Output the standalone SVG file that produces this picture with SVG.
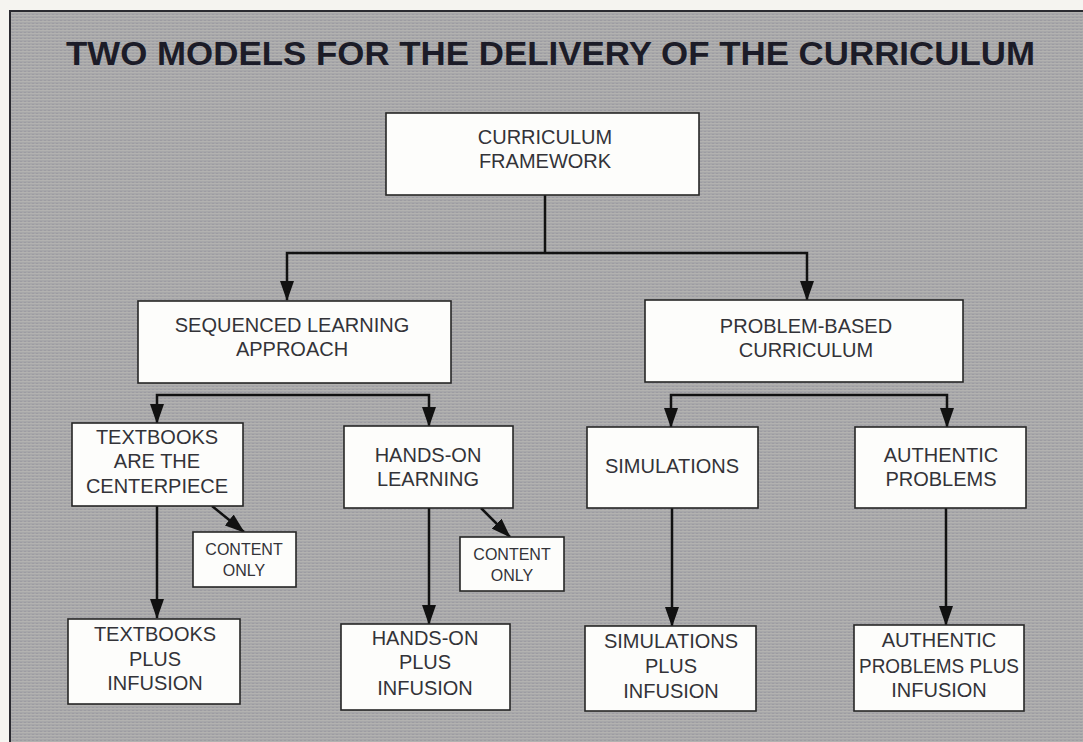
<svg xmlns="http://www.w3.org/2000/svg" width="1083" height="742" viewBox="0 0 1083 742">
<style>
.node rect{fill:#fdfdfb;stroke:#262626;stroke-width:1.6}
.node text{font-family:"Liberation Sans",Arial,sans-serif;font-size:20px;fill:#333338;text-anchor:middle}
.node text.small{font-size:16px}
.conn path{fill:none;stroke:#111;stroke-width:2.5}
.title{font-family:"Liberation Sans",Arial,sans-serif;font-weight:bold;font-size:33px;fill:#1c1c28}
</style>
<defs>
<pattern id="tex" width="4" height="3" patternUnits="userSpaceOnUse">
<rect width="4" height="3" fill="#a7a7a9"/>
<rect y="0" width="4" height="1" fill="#b3b2b0"/>
<rect x="0" y="2" width="2" height="1" fill="#9d9ca2"/>
</pattern>
<marker id="ah" viewBox="0 0 20 14" refX="19" refY="7" markerWidth="20" markerHeight="14" markerUnits="userSpaceOnUse" orient="auto">
<path d="M0,0 L20,7 L0,14 z" fill="#111"/>
</marker>
</defs>
<rect width="1083" height="742" fill="#f5f4f0"/>
<rect x="10" y="11" width="1080" height="740" fill="url(#tex)" stroke="#2a2a30" stroke-width="2"/>
<text class="title" x="66" y="65" textLength="969" lengthAdjust="spacingAndGlyphs">TWO MODELS FOR THE DELIVERY OF THE CURRICULUM</text>

<g class="conn">
<path d="M545,195 V253"/>
<path d="M545,253 H287 V300" marker-end="url(#ah)"/>
<path d="M545,253 H807 V300" marker-end="url(#ah)"/>
<path d="M293,395 H157 V423" marker-end="url(#ah)"/>
<path d="M293,395 H429 V426" marker-end="url(#ah)"/>
<path d="M808,395 H671 V427" marker-end="url(#ah)"/>
<path d="M808,395 H947 V427" marker-end="url(#ah)"/>
<path d="M157,506 V618" marker-end="url(#ah)"/>
<path d="M429,508 V624" marker-end="url(#ah)"/>
<path d="M672,508 V626" marker-end="url(#ah)"/>
<path d="M946,508 V625" marker-end="url(#ah)"/>
<path d="M212,506 L244,532" marker-end="url(#ah)"/>
<path d="M481,508 L510,537" marker-end="url(#ah)"/>
</g>

<g id="curriculum-framework" class="node">
<rect x="386" y="113" width="313" height="82"/>
<text x="545" y="144">CURRICULUM</text>
<text x="545" y="168">FRAMEWORK</text>
</g>
<g id="sequenced-learning" class="node">
<rect x="138" y="301" width="313" height="82"/>
<text x="292" y="332">SEQUENCED LEARNING</text>
<text x="292" y="356">APPROACH</text>
</g>
<g id="problem-based" class="node">
<rect x="645" y="300" width="318" height="82"/>
<text x="806" y="333">PROBLEM-BASED</text>
<text x="806" y="357">CURRICULUM</text>
</g>
<g id="textbooks" class="node">
<rect x="72" y="423" width="171" height="83"/>
<text x="157" y="444">TEXTBOOKS</text>
<text x="157" y="468">ARE THE</text>
<text x="157" y="493">CENTERPIECE</text>
</g>
<g id="hands-on" class="node">
<rect x="344" y="426" width="169" height="82"/>
<text x="428" y="462">HANDS-ON</text>
<text x="428" y="486">LEARNING</text>
</g>
<g id="simulations" class="node">
<rect x="587" y="427" width="171" height="81"/>
<text x="672" y="473">SIMULATIONS</text>
</g>
<g id="authentic-problems" class="node">
<rect x="855" y="427" width="171" height="81"/>
<text x="941" y="462">AUTHENTIC</text>
<text x="941" y="486">PROBLEMS</text>
</g>
<g id="content-only-1" class="node">
<rect x="193" y="532" width="103" height="55"/>
<text class="small" x="244" y="555">CONTENT</text>
<text class="small" x="244" y="576">ONLY</text>
</g>
<g id="content-only-2" class="node">
<rect x="460" y="537" width="104" height="54"/>
<text class="small" x="512" y="560">CONTENT</text>
<text class="small" x="512" y="581">ONLY</text>
</g>
<g id="textbooks-plus" class="node">
<rect x="68" y="619" width="172" height="85"/>
<text x="155" y="641">TEXTBOOKS</text>
<text x="155" y="666">PLUS</text>
<text x="155" y="690">INFUSION</text>
</g>
<g id="hands-on-plus" class="node">
<rect x="341" y="624" width="169" height="86"/>
<text x="425" y="645">HANDS-ON</text>
<text x="425" y="669">PLUS</text>
<text x="425" y="695">INFUSION</text>
</g>
<g id="simulations-plus" class="node">
<rect x="585" y="626" width="171" height="85"/>
<text x="671" y="648">SIMULATIONS</text>
<text x="671" y="673">PLUS</text>
<text x="671" y="698">INFUSION</text>
</g>
<g id="authentic-plus" class="node">
<rect x="854" y="625" width="170" height="86"/>
<text x="939" y="647">AUTHENTIC</text>
<text x="939" y="673" textLength="160" lengthAdjust="spacingAndGlyphs">PROBLEMS PLUS</text>
<text x="939" y="697">INFUSION</text>
</g>
</svg>
